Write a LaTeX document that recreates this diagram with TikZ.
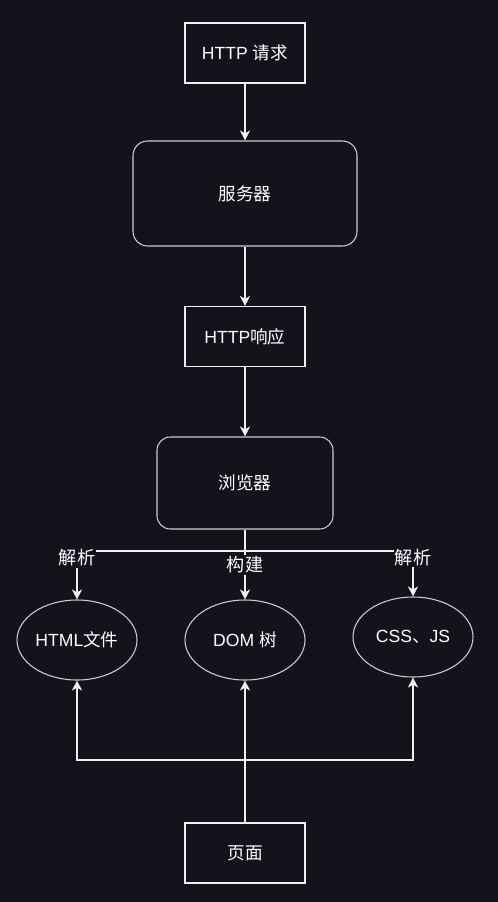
\documentclass[tikz,border=0pt]{standalone}
\usepackage{fontspec}
\setmainfont{Liberation Sans}
\newfontfamily\cjk{Noto Sans CJK SC}
\usetikzlibrary{arrows.meta,shapes.geometric}
\definecolor{bg}{RGB}{22,18,28}
\definecolor{edgec}{RGB}{240,240,240}
\definecolor{soft}{RGB}{205,205,205}
\begin{document}
\begin{tikzpicture}[x=0.75pt,y=-0.75pt,
  every node/.style={text=white, font=\fontsize{13.2}{15}\selectfont},
  sqbox/.style={draw=edgec, line width=0.8pt, minimum width=90pt, minimum height=45pt, inner sep=0pt},
  rbox/.style={draw=soft, line width=0.8pt, rounded corners=11pt, inner sep=0pt},
  ell/.style={ellipse, draw=soft, line width=0.8pt, minimum width=90pt, minimum height=60pt, inner sep=0pt},
  wire/.style={draw=edgec, line width=1.1pt},
  arr/.style={wire, -{Stealth[length=7.5pt,width=7.5pt,inset=2.2pt]}},
  lab/.style={fill=bg, inner sep=1pt, font=\fontsize{13.6}{15}\selectfont}
]
\fill[bg] (0,0) rectangle (498,902);
\useasboundingbox (0,0) rectangle (498,902);

\node[sqbox] (req) at (245,53) {HTTP {\cjk 请求}};
\node[rbox, minimum width=168pt, minimum height=78.75pt] (srv) at (245,193.5) {\cjk 服务器};
\node[sqbox] (resp) at (245,336.5) {HTTP{\cjk 响应}};
\node[rbox, minimum width=132pt, minimum height=69pt, rounded corners=10pt] (brw) at (245,483) {\cjk 浏览器};

\node[ell] (html) at (77,640) {HTML{\cjk 文件}};
\node[ell] (dom) at (245,640) {DOM {\cjk 树}};
\node[ell] (css) at (413,637) {CSS{\cjk 、}JS};

\node[sqbox] (page) at (245,853) {\cjk 页面};

\coordinate (j1) at (245,551);
\coordinate (j2) at (245,760);

\draw[arr] (req) -- (srv);
\draw[arr] (srv) -- (resp);
\draw[arr] (resp) -- (brw);

\draw[wire] (brw.south) -- (j1);
\draw[arr] (j1) -| node[lab, pos=0.57] (l1) {\cjk 解析} (html.north);
\draw[arr] (j1) -- node[lab, pos=0.29] (l2) {\cjk 构建} (dom.north);
\draw[arr] (j1) -| node[lab, pos=0.57] (l3) {\cjk 解析} (css.north);

\draw[arr] (page.north) -- (dom.south);
\draw[arr] (j2) -| (html.south);
\draw[arr] (j2) -| (css.south);
\end{tikzpicture}
\end{document}
